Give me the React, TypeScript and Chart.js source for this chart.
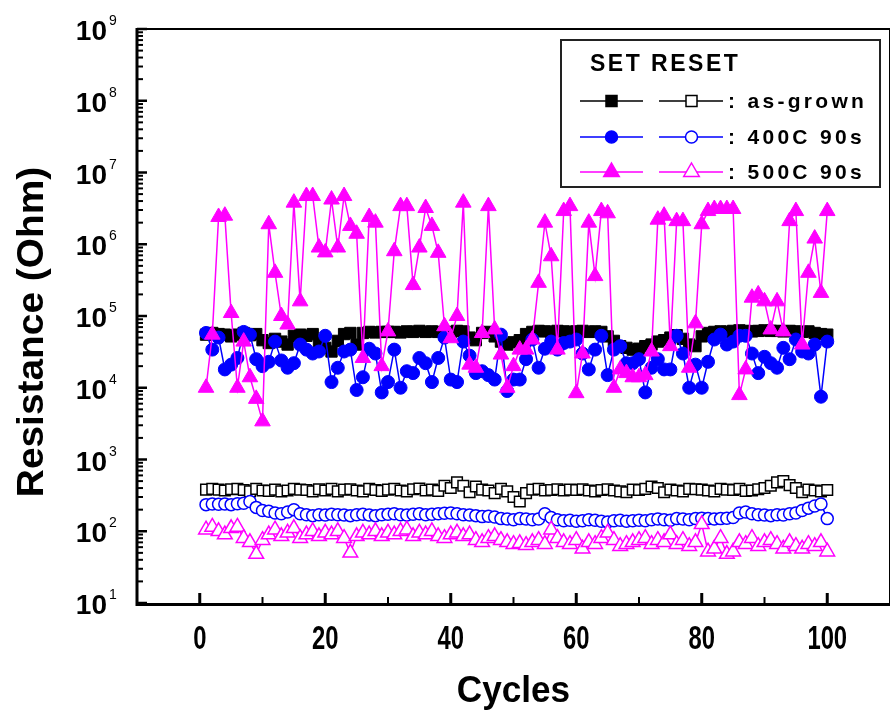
import React, { useEffect, useRef } from "react";
import { Chart, registerables } from "chart.js";

Chart.register(...registerables);

// ---- data ----
const cycles: number[] = Array.from({ length: 100 }, (_, i) => i + 1);

const setAsGrown: number[] = [
  5.5e4, 5.8e4, 5.6e4, 5.5e4, 5.2e4, 5.5e4, 5.8e4, 5.4e4, 5.6e4, 4.6e4,
  4.2e4, 4.8e4, 4.4e4, 4.0e4, 5.3e4, 5.5e4, 5.3e4, 5.6e4, 4.2e4, 3.6e4,
  3.2e4, 4.5e4, 5.6e4, 5.8e4, 4.0e4, 5.8e4, 6.0e4, 5.9e4, 6.0e4, 6.0e4,
  6.0e4, 5.9e4, 6.1e4, 6.0e4, 6.2e4, 6.0e4, 6.1e4, 6.0e4, 5.6e4, 6.0e4,
  6.2e4, 6.1e4, 5.0e4, 4.6e4, 5.8e4, 6.0e4, 5.2e4, 4.4e4, 4.0e4, 4.3e4,
  4.6e4, 5.6e4, 6.0e4, 6.2e4, 6.1e4, 6.0e4, 6.2e4, 6.1e4, 6.0e4, 6.1e4,
  6.2e4, 6.0e4, 6.1e4, 6.0e4, 5.2e4, 4.5e4, 3.8e4, 3.6e4, 3.4e4, 3.5e4,
  3.8e4, 4.0e4, 4.4e4, 4.6e4, 5.0e4, 5.4e4, 4.8e4, 4.0e4, 3.8e4, 5.2e4,
  5.8e4, 6.0e4, 6.1e4, 6.0e4, 6.2e4, 6.3e4, 6.2e4, 6.1e4, 6.2e4, 6.3e4,
  6.2e4, 6.2e4, 6.1e4, 6.2e4, 6.1e4, 6.0e4, 6.1e4, 5.8e4, 5.6e4, 5.5e4,
];

const resetAsGrown: number[] = [
  380, 390, 380, 370, 385, 390, 375, 360, 390, 370,
  365, 380, 360, 370, 390, 380, 375, 360, 385, 370,
  390, 360, 380, 385, 370, 360, 390, 375, 365, 380,
  390, 370, 360, 385, 395, 370, 380, 365, 430, 400,
  480, 430, 350, 420, 380, 370, 340, 390, 360, 300,
  260, 340, 380, 390, 370, 375, 385, 370, 380, 375,
  385, 370, 360, 375, 385, 370, 360, 350, 380, 375,
  390, 420, 400, 350, 380, 370, 360, 390, 385, 380,
  370, 360, 390, 380, 375, 390, 365, 370, 385, 400,
  430, 480, 500, 440, 400, 350, 380, 370, 360, 375,
];

const set400: number[] = [
  5.8e4, 3.4e4, 5.0e4, 1.8e4, 2.1e4, 2.6e4, 6.0e4, 5.5e4, 2.5e4, 2.0e4,
  2.3e4, 4.4e4, 2.4e4, 1.9e4, 2.2e4, 4.0e4, 3.4e4, 3.0e4, 3.2e4, 5.3e4,
  1.2e4, 1.9e4, 3.2e4, 3.4e4, 9.3e3, 1.4e4, 3.5e4, 3.0e4, 8.6e3, 1.2e4,
  3.4e4, 1.0e4, 1.7e4, 1.6e4, 2.6e4, 2.2e4, 1.2e4, 2.6e4, 5.0e4, 1.3e4,
  1.2e4, 4.4e4, 2.8e4, 1.6e4, 1.7e4, 1.5e4, 1.3e4, 5.5e4, 9.0e3, 1.3e4,
  1.3e4, 2.5e4, 4.7e4, 1.9e4, 3.5e4, 4.4e4, 3.4e4, 4.2e4, 4.4e4, 4.7e4,
  3.0e4, 1.8e4, 3.4e4, 5.3e4, 1.5e4, 3.4e4, 3.8e4, 2.2e4, 2.2e4, 2.5e4,
  8.6e3, 1.9e4, 2.5e4, 1.8e4, 1.8e4, 5.3e4, 3.0e4, 1.0e4, 2.1e4, 1.0e4,
  2.3e4, 4.7e4, 5.5e4, 4.0e4, 4.4e4, 5.3e4, 5.3e4, 3.0e4, 1.6e4, 2.7e4,
  2.2e4, 1.9e4, 3.6e4, 2.5e4, 4.7e4, 3.2e4, 3.0e4, 4.0e4, 7.5e3, 4.4e4,
];

const reset400: number[] = [
  235, 240, 238, 240, 235, 242, 245, 260, 215, 195,
  190, 180, 175, 185, 200, 175, 170, 165, 170, 168,
  172, 170, 168, 165, 170, 172, 168, 165, 170, 172,
  175, 170, 168, 172, 175, 170, 172, 175, 178, 180,
  175, 170, 168, 165, 160, 162, 158, 150, 148, 145,
  150, 148, 145, 148, 175, 155, 145, 140, 142, 138,
  140, 145, 142, 138, 135, 140, 142, 138, 140, 142,
  140, 145, 148, 145, 142, 150, 148, 145, 150, 152,
  150, 148, 150, 152, 155, 180, 185, 175, 170, 168,
  165, 170, 168, 175, 180, 195, 210, 225, 240, 150,
];

const set500: number[] = [
  1.0e4, 5.5e4, 2.4e6, 2.5e6, 1.1e5, 1.0e4, 4.4e4, 1.4e4, 7.0e3, 3.4e3,
  1.9e6, 4.0e5, 1.0e5, 7.6e4, 3.8e6, 1.6e5, 4.7e6, 4.7e6, 9.0e5, 7.7e5,
  4.2e6, 9.0e5, 4.7e6, 1.8e6, 1.4e6, 2.6e4, 2.4e6, 2.0e6, 2.0e4, 6.1e4,
  8.0e5, 3.4e6, 3.4e6, 2.7e5, 9.0e5, 3.2e6, 1.8e6, 7.6e5, 7.2e4, 4.9e4,
  1.0e5, 3.8e6, 2.1e4, 1.9e4, 5.8e4, 3.4e6, 6.5e4, 2.9e4, 1.0e4, 2.0e4,
  3.4e4, 3.4e4, 4.7e4, 2.9e5, 2.0e6, 6.8e5, 3.4e4, 2.9e6, 3.4e6, 8.4e3,
  3.0e4, 2.0e6, 3.6e5, 2.9e6, 2.7e6, 1.0e4, 1.8e4, 1.6e4, 1.4e4, 1.4e4,
  1.5e4, 3.2e4, 2.2e6, 2.5e6, 3.8e4, 2.1e6, 2.1e6, 1.9e4, 7.9e4, 1.9e6,
  2.9e6, 3.1e6, 3.1e6, 3.1e6, 3.1e6, 7.9e3, 1.8e4, 1.8e5, 2.0e5, 1.6e5,
  6.5e4, 1.6e5, 6.1e4, 2.1e6, 2.9e6, 4.0e4, 4.0e5, 1.2e6, 2.1e5, 2.9e6,
];

const reset500: number[] = [
  105, 115, 100, 90, 110, 115, 80, 70, 48, 75,
  90, 105, 85, 95, 110, 80, 90, 100, 85, 95,
  90, 100, 80, 50, 85, 95, 90, 100, 85, 95,
  90, 100, 105, 85, 95, 90, 100, 85, 80, 90,
  95, 85, 90, 75, 70, 80, 85, 75, 70, 66,
  68, 64, 70, 75, 66, 105, 80, 70, 66, 75,
  57, 70, 66, 80, 95, 75, 62, 66, 70, 75,
  80, 66, 75, 70, 90, 66, 75, 62, 70, 125,
  52, 57, 80, 48, 52, 70, 66, 80, 62, 70,
  75, 66, 57, 70, 62, 57, 66, 62, 70, 52,
];

const yExponents: number[] = [1, 2, 3, 4, 5, 6, 7, 8, 9];
const xMajorTicks: number[] = [0, 20, 40, 60, 80, 100];
const xMinorTicks: number[] = [10, 30, 50, 70, 90];
const legendRows: string[] = [": as-grown", ": 400C 90s", ": 500C 90s"];
const legendColors: string[] = ["#000000", "#0000ff", "#ff00ff"];
const legendShapes: string[] = ["rect", "circle", "triangle"];

const MAGENTA = "#ff00ff";
const BLUE = "#0000ff";
const BLACK = "#000000";
const FONT = "'Liberation Sans', Arial, sans-serif";

function drawShape(ctx: CanvasRenderingContext2D, shape: string, x: number, y: number, filled: boolean, color: string) {
  ctx.beginPath();
  if (shape === "rect") {
    ctx.rect(x - 5.5, y - 5.5, 11, 11);
  } else if (shape === "circle") {
    ctx.arc(x, y, 6, 0, Math.PI * 2);
  } else {
    const r = 9;
    ctx.moveTo(x, y - r);
    ctx.lineTo(x + r * 0.866, y + r * 0.5);
    ctx.lineTo(x - r * 0.866, y + r * 0.5);
    ctx.closePath();
  }
  ctx.fillStyle = filled ? color : "#ffffff";
  ctx.fill();
  ctx.lineWidth = 1.5;
  ctx.strokeStyle = color;
  ctx.stroke();
}

const decorPlugin = {
  id: "decor",
  afterDatasetsDraw(chart: any) {
    const ctx: CanvasRenderingContext2D = chart.ctx;
    const { left, right, top, bottom } = chart.chartArea;
    const xs = chart.scales.x;
    const ys = chart.scales.y;
    ctx.save();
    ctx.strokeStyle = "#000";
    ctx.lineCap = "butt";
    // frame
    ctx.lineWidth = 2;
    ctx.beginPath();
    ctx.moveTo(left, top);
    ctx.lineTo(right, top);
    ctx.lineTo(right, bottom);
    ctx.stroke();
    ctx.lineWidth = 3;
    ctx.beginPath();
    ctx.moveTo(left, top - 1);
    ctx.lineTo(left, bottom + 1.5);
    ctx.lineTo(right, bottom + 1.5);
    ctx.stroke();
    // y ticks
    for (const p of yExponents) {
      const y = ys.getPixelForValue(Math.pow(10, p));
      ctx.lineWidth = 2.5;
      ctx.beginPath();
      ctx.moveTo(left, y);
      ctx.lineTo(left + 10, y);
      ctx.stroke();
      if (p < 9) {
        for (let m = 2; m <= 9; m++) {
          const ym = ys.getPixelForValue(m * Math.pow(10, p));
          ctx.lineWidth = 2;
          ctx.beginPath();
          ctx.moveTo(left, ym);
          ctx.lineTo(left + 6, ym);
          ctx.stroke();
        }
      }
    }
    // x ticks
    for (const v of xMajorTicks) {
      const x = xs.getPixelForValue(v);
      ctx.lineWidth = 3;
      ctx.beginPath();
      ctx.moveTo(x, bottom);
      ctx.lineTo(x, bottom - 10);
      ctx.stroke();
    }
    for (const v of xMinorTicks) {
      const x = xs.getPixelForValue(v);
      ctx.lineWidth = 2;
      ctx.beginPath();
      ctx.moveTo(x, bottom);
      ctx.lineTo(x, bottom - 6);
      ctx.stroke();
    }
    ctx.restore();
  },
  afterDraw(chart: any) {
    const ctx: CanvasRenderingContext2D = chart.ctx;
    const { bottom } = chart.chartArea;
    const xs = chart.scales.x;
    const ys = chart.scales.y;
    ctx.save();
    ctx.fillStyle = "#000";
    // y tick labels
    for (const p of yExponents) {
      const y = ys.getPixelForValue(Math.pow(10, p));
      ctx.font = `bold 28px ${FONT}`;
      ctx.textAlign = "right";
      ctx.textBaseline = "alphabetic";
      ctx.fillText("10", 107, y + 11);
      ctx.font = `14px ${FONT}`;
      ctx.textAlign = "left";
      ctx.fillText(String(p), 109, y - 4);
    }
    // x tick labels (condensed look)
    ctx.font = `bold 34px ${FONT}`;
    ctx.textAlign = "center";
    ctx.textBaseline = "alphabetic";
    for (const v of xMajorTicks) {
      const x = xs.getPixelForValue(v);
      ctx.save();
      ctx.translate(x, bottom + 46);
      ctx.scale(0.7, 1);
      ctx.fillText(String(v), 0, 0);
      ctx.restore();
    }
    // axis titles
    ctx.font = `bold 37px ${FONT}`;
    ctx.save();
    ctx.translate((xs.getPixelForValue(-10) + xs.getPixelForValue(110)) / 2, 702);
    ctx.scale(0.95, 1);
    ctx.fillText("Cycles", 0, 0);
    ctx.restore();
    ctx.save();
    ctx.translate(43, 332);
    ctx.rotate(-Math.PI / 2);
    ctx.font = `bold 37px ${FONT}`;
    ctx.textAlign = "center";
    ctx.scale(1.05, 1);
    ctx.fillText("Resistance (Ohm)", 0, 0);
    ctx.restore();

    // legend
    const bx = 561, by = 40, bw = 319, bh = 147;
    ctx.fillStyle = "#fff";
    ctx.fillRect(bx, by, bw, bh);
    ctx.strokeStyle = "#222";
    ctx.lineWidth = 2;
    ctx.strokeRect(bx, by, bw, bh);
    ctx.fillStyle = "#000";
    ctx.textAlign = "left";
    ctx.textBaseline = "middle";
    (ctx as any).letterSpacing = "2.5px";
    ctx.font = `bold 23px ${FONT}`;
    ctx.fillText("SET RESET", 590, 65);
    const rowsY = [101, 137, 172];
    legendRows.forEach((label, i) => {
      const y = rowsY[i];
      const c = legendColors[i];
      ctx.strokeStyle = c;
      ctx.lineWidth = 1.5;
      ctx.beginPath();
      ctx.moveTo(580, y);
      ctx.lineTo(643, y);
      ctx.moveTo(659, y);
      ctx.lineTo(723, y);
      ctx.stroke();
      drawShape(ctx, legendShapes[i], 611.5, y, true, c);
      drawShape(ctx, legendShapes[i], 691.5, y, false, c);
      ctx.fillStyle = "#000";
      (ctx as any).letterSpacing = "3.3px";
      ctx.font = `bold 21px ${FONT}`;
      ctx.fillText(label, 728, y + 1);
    });
    ctx.restore();
  },
};

export default function App() {
  const ref = useRef<HTMLCanvasElement>(null);
  useEffect(() => {
    const canvas = ref.current;
    if (!canvas) return;
    const pts = (vals: number[]) => vals.map((v, i) => ({ x: cycles[i], y: v }));
    const ds = (label: string, vals: number[], color: string, style: string, radius: number, filled: boolean) => ({
      label,
      data: pts(vals),
      borderColor: color,
      backgroundColor: filled ? color : "#ffffff",
      pointBackgroundColor: filled ? color : "#ffffff",
      pointBorderColor: color,
      pointStyle: style,
      pointRadius: radius,
      pointBorderWidth: filled ? 1 : 1.5,
      borderWidth: 1.5,
      fill: false,
      tension: 0,
      showLine: true,
    });
    const chart = new Chart(canvas, {
      type: "line",
      data: {
        datasets: [
          ds("SET 500C 90s", set500, MAGENTA, "triangle", 9, true),
          ds("SET 400C 90s", set400, BLUE, "circle", 6.5, true),
          ds("SET as-grown", setAsGrown, BLACK, "rect", 8, true),
          ds("RESET 500C 90s", reset500, MAGENTA, "triangle", 8.5, false),
          ds("RESET 400C 90s", reset400, BLUE, "circle", 6, false),
          ds("RESET as-grown", resetAsGrown, BLACK, "rect", 7.5, false),
        ] as any,
      },
      options: {
        animation: false,
        responsive: false,
        devicePixelRatio: 1,
        layout: { padding: { left: 137, top: 29, right: 3, bottom: 107 } },
        scales: {
          x: { type: "linear", min: -10, max: 110, display: false },
          y: { type: "logarithmic", min: 10, max: 1e9, display: false },
        },
        plugins: { legend: { display: false }, tooltip: { enabled: false } },
      } as any,
      plugins: [decorPlugin],
    });
    return () => chart.destroy();
  }, []);
  return (
    <div style={{ position: "fixed", left: 0, top: 0, width: 890, height: 710, overflow: "hidden", background: "#fff" }}>
      <canvas ref={ref} width={900} height={710} style={{ display: "block", width: 900, height: 710 }} />
    </div>
  );
}
